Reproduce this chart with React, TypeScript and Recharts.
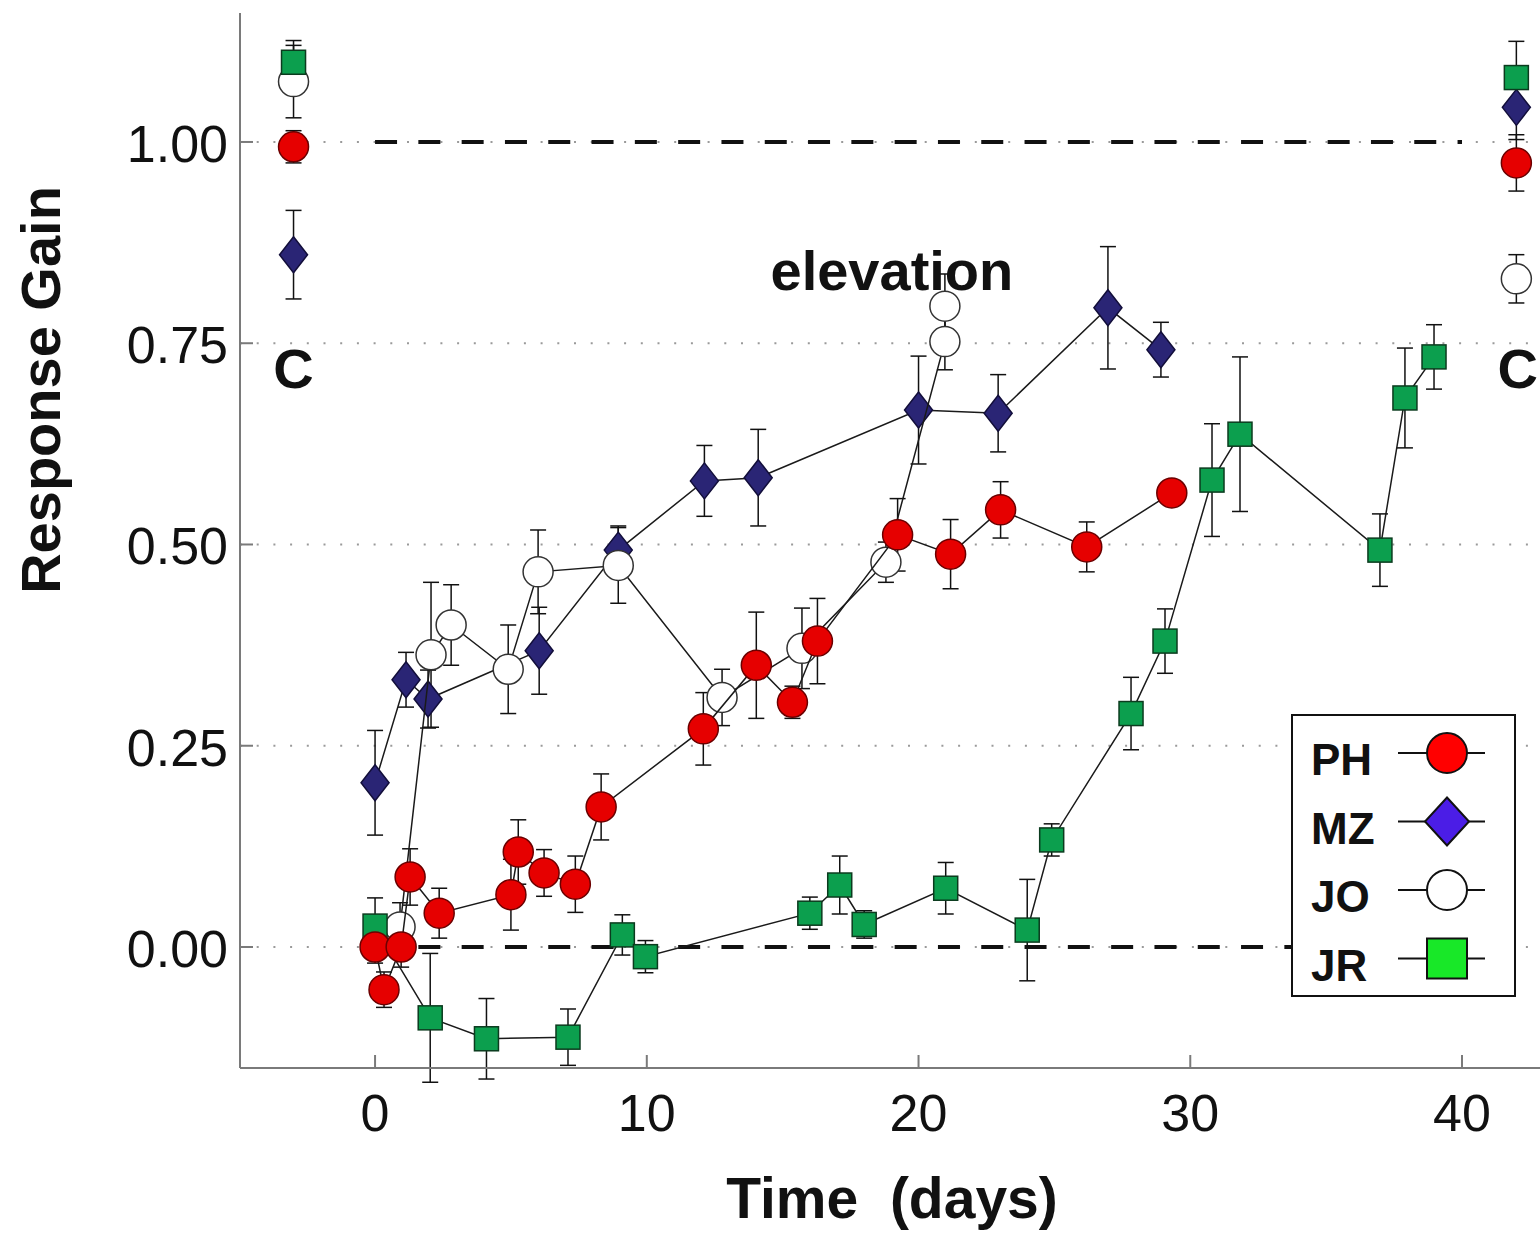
import React from "react";
import {
  ScatterChart,
  Scatter,
  XAxis,
  YAxis,
  CartesianGrid,
  ErrorBar,
  ReferenceLine,
  ReferenceDot,
} from "recharts";

// time axis in days, gains
const phDays = [0, 0.33, 0.96, 1.29, 2.36, 5.0, 5.27, 6.22, 7.37, 8.32, 12.08, 14.03, 15.36, 16.28, 19.23, 21.18, 23.02, 26.19, 29.32];
const phGain = [0.0, -0.053, 0.0, 0.087, 0.042, 0.065, 0.118, 0.092, 0.078, 0.174, 0.271, 0.35, 0.304, 0.38, 0.512, 0.488, 0.543, 0.497, 0.564];
const phErr = [0.02, 0.022, 0.025, 0.035, 0.031, 0.044, 0.04, 0.029, 0.035, 0.041, 0.045, 0.066, 0.02, 0.053, 0.045, 0.043, 0.035, 0.031, 0.015];

const mzDays = [0, 1.14, 1.95, 6.04, 8.95, 12.12, 14.1, 20.0, 22.93, 26.97, 28.92];
const mzGain = [0.204, 0.332, 0.308, 0.368, 0.493, 0.579, 0.583, 0.667, 0.663, 0.794, 0.742];
const mzErr = [0.065, 0.034, 0.036, 0.054, 0.03, 0.044, 0.06, 0.067, 0.048, 0.076, 0.034];

const joDays = [0.92, 2.06, 2.8, 4.9, 6.0, 8.95, 12.77, 15.71, 18.8, 20.97, 20.97];
const joGain = [0.025, 0.363, 0.4, 0.345, 0.466, 0.474, 0.31, 0.371, 0.478, 0.752, 0.796];
const joErr = [0.03, 0.09, 0.05, 0.055, 0.052, 0.047, 0.035, 0.05, 0.025, 0.035, 0.04];

const jrDays = [0, 2.03, 4.1, 7.1, 9.1, 9.95, 16.0, 17.1, 18.0, 21.0, 24.0, 24.9, 27.82, 29.07, 30.8, 31.83, 36.98, 37.9, 38.97];
const jrGain = [0.026, -0.088, -0.114, -0.112, 0.015, -0.012, 0.042, 0.077, 0.028, 0.073, 0.021, 0.133, 0.29, 0.38, 0.58, 0.637, 0.493, 0.682, 0.733];
const jrErr = [0.035, 0.08, 0.05, 0.035, 0.025, 0.02, 0.02, 0.036, 0.017, 0.032, 0.063, 0.02, 0.045, 0.04, 0.07, 0.096, 0.045, 0.062, 0.04];

// control sessions ("C") before and after
const controlDays = [-3, 42];
const phControl = [0.994, 0.974];
const phControlErr = [0.02, 0.035];
const mzControl = [0.86, 1.043];
const mzControlErr = [0.055, 0.04];
const joControl = [1.075, 0.83];
const joControlErr = [0.045, 0.03];
const jrControl = [1.099, 1.08];
const jrControlErr = [0.027, 0.045];

const xTicks = [0, 10, 20, 30, 40];
const yTicks = [0, 0.25, 0.5, 0.75, 1.0];

const annotations = [
  { x: -3, y: 0.694, text: "C" },
  { x: 42.05, y: 0.694, text: "C" },
  { x: 19.02, y: 0.816, text: "elevation" },
];

const toPoints = (days: number[], gain: number[], err: number[]) =>
  days.map((d, i) => ({ x: d, y: gain[i], err: err[i] }));

const FONT = '"Liberation Sans", Arial, Helvetica, sans-serif';
const LINE = { stroke: "#1a1a1a", strokeWidth: 1.5 };

const RED = "#e60000";
const NAVY = "#2a2575";
const GREEN = "#0c9f4e";

const circle = (fill: string, stroke: string) => (p: any) =>
  <circle cx={p.cx} cy={p.cy} r={15} fill={fill} stroke={stroke} strokeWidth={1.5} />;
const diamond = (fill: string, stroke: string) => (p: any) =>
  (
    <polygon
      points={`${p.cx},${p.cy - 18} ${p.cx + 14},${p.cy} ${p.cx},${p.cy + 18} ${p.cx - 14},${p.cy}`}
      fill={fill}
      stroke={stroke}
      strokeWidth={1.5}
    />
  );
const square = (fill: string, stroke: string) => (p: any) =>
  <rect x={p.cx - 12} y={p.cy - 12} width={24} height={24} fill={fill} stroke={stroke} strokeWidth={1.5} />;

const phShape = circle(RED, "#6b0000");
const mzShape = diamond(NAVY, "#120e3a");
const joShape = circle("#ffffff", "#333333");
const jrShape = square(GREEN, "#0b3b1e");

const YTick = (props: any) => {
  const { x, y, payload } = props;
  return (
    <g>
      <line x1={x + 12} x2={x + 25} y1={y} y2={y} stroke="#7a7a7a" strokeWidth={2} />
      <text x={x} y={y + 20} textAnchor="end" fontFamily={FONT} fontSize={52} fill="#111">
        {payload.value.toFixed(2)}
      </text>
    </g>
  );
};

const XTick = (props: any) => {
  const { x, y, payload } = props;
  return (
    <g>
      <line x1={x} x2={x} y1={y} y2={y - 13} stroke="#7a7a7a" strokeWidth={2} />
      <text x={x} y={y + 63} textAnchor="middle" fontFamily={FONT} fontSize={52} fill="#111">
        {payload.value}
      </text>
    </g>
  );
};

const legendItems = [
  { label: "PH", kind: "circle", fill: "#ff0000", stroke: "#111" },
  { label: "MZ", kind: "diamond", fill: "#4b1de6", stroke: "#111" },
  { label: "JO", kind: "circle", fill: "#ffffff", stroke: "#111" },
  { label: "JR", kind: "square", fill: "#18e828", stroke: "#111" },
];

function LegendBox() {
  return (
    <svg
      width={225}
      height={283}
      style={{ position: "absolute", left: 1291, top: 714, background: "#fff" }}
    >
      <rect x={1} y={1} width={223} height={281} fill="#fff" stroke="#111" strokeWidth={2} />
      {legendItems.map((item, i) => {
        const cy = 39 + i * 68.5;
        return (
          <g key={item.label}>
            <text x={20} y={cy + 22} fontFamily={FONT} fontWeight="bold" fontSize={44} fill="#111">
              {item.label}
            </text>
            <line x1={107} x2={194} y1={cy} y2={cy} stroke="#111" strokeWidth={2} />
            {item.kind === "circle" && (
              <circle cx={156} cy={cy} r={20} fill={item.fill} stroke={item.stroke} strokeWidth={2} />
            )}
            {item.kind === "diamond" && (
              <polygon
                points={`156,${cy - 24} 178,${cy} 156,${cy + 24} 134,${cy}`}
                fill={item.fill}
                stroke={item.stroke}
                strokeWidth={2}
              />
            )}
            {item.kind === "square" && (
              <rect x={136} y={cy - 20} width={40} height={40} fill={item.fill} stroke={item.stroke} strokeWidth={2} />
            )}
          </g>
        );
      })}
    </svg>
  );
}

export default function App() {
  const series = [
    { name: "MZ", data: toPoints(mzDays, mzGain, mzErr), ctrl: toPoints(controlDays, mzControl, mzControlErr), shape: mzShape },
    { name: "JO", data: toPoints(joDays, joGain, joErr), ctrl: toPoints(controlDays, joControl, joControlErr), shape: joShape },
    { name: "JR", data: toPoints(jrDays, jrGain, jrErr), ctrl: toPoints(controlDays, jrControl, jrControlErr), shape: jrShape },
    { name: "PH", data: toPoints(phDays, phGain, phErr), ctrl: toPoints(controlDays, phControl, phControlErr), shape: phShape },
  ];

  return (
    <div style={{ position: "absolute", left: 0, top: 0, width: 1540, height: 1235, background: "#fff", overflow: "hidden" }}>
      <ScatterChart width={1540} height={1235} margin={{ top: 13, right: 0, bottom: 0, left: 0 }}>
        <CartesianGrid
          vertical={false}
          horizontalValues={yTicks}
          stroke="#9a9a9a"
          strokeWidth={2}
          strokeDasharray="2 14.7"
        />
        <XAxis
          type="number"
          dataKey="x"
          domain={[-4.97, 42.87]}
          ticks={xTicks}
          allowDataOverflow
          height={167}
          tickSize={0}
          tickMargin={0}
          tick={<XTick />}
          axisLine={{ stroke: "#7a7a7a", strokeWidth: 2 }}
          label={{
            content: (p: any) => (
              <text
                x={p.viewBox.x + p.viewBox.width / 2 + 2}
                y={p.viewBox.y + 150}
                textAnchor="middle"
                fontFamily={FONT}
                fontWeight="bold"
                fontSize={57}
                fill="#111"
                style={{ whiteSpace: "pre" }}
              >
                {"Time  (days)"}
              </text>
            ),
          }}
        />
        <YAxis
          type="number"
          dataKey="y"
          domain={[-0.1503, 1.1602]}
          ticks={yTicks}
          allowDataOverflow
          width={240}
          tickSize={0}
          tickMargin={12}
          tick={<YTick />}
          axisLine={{ stroke: "#7a7a7a", strokeWidth: 2 }}
          label={{
            content: () => (
              <text
                transform="translate(60,390) rotate(-90)"
                textAnchor="middle"
                fontFamily={FONT}
                fontWeight="bold"
                fontSize={56}
                fill="#111"
              >
                Response Gain
              </text>
            ),
          }}
        />
        <ReferenceLine segment={[{ x: 0, y: 1 }, { x: 40, y: 1 }]} stroke="#111" strokeWidth={4} strokeDasharray="22 21.3" />
        <ReferenceLine segment={[{ x: 0, y: 0 }, { x: 40, y: 0 }]} stroke="#111" strokeWidth={4} strokeDasharray="22 21.3" />
        {annotations.map((a, i) => (
          <ReferenceDot
            key={i}
            x={a.x}
            y={a.y}
            r={0}
            ifOverflow="visible"
            shape={(p: any) => (
              <text x={p.cx} y={p.cy} textAnchor="middle" fontFamily={FONT} fontWeight="bold" fontSize={56} fill="#111">
                {a.text}
              </text>
            )}
          />
        ))}
        {series.map((s) => (
          <Scatter
            key={s.name}
            name={s.name}
            data={s.data}
            shape={s.shape}
            line={LINE}
            lineType="joint"
            isAnimationActive={false}
          >
            <ErrorBar dataKey="err" direction="y" width={8} stroke="#111" strokeWidth={1.5} isAnimationActive={false} />
          </Scatter>
        ))}
        {series.map((s) => (
          <Scatter key={s.name + "-c"} data={s.ctrl} shape={s.shape} isAnimationActive={false}>
            <ErrorBar dataKey="err" direction="y" width={8} stroke="#111" strokeWidth={1.5} isAnimationActive={false} />
          </Scatter>
        ))}
      </ScatterChart>
      <LegendBox />
    </div>
  );
}
